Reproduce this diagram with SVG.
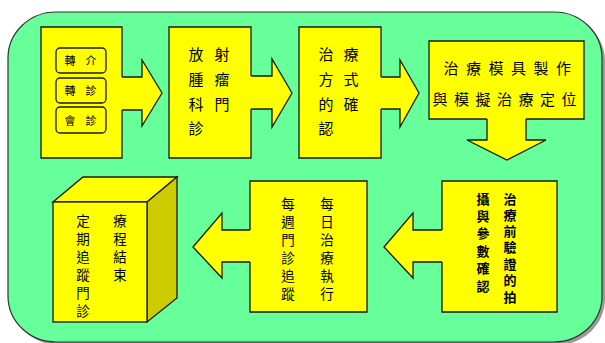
<svg xmlns="http://www.w3.org/2000/svg" width="605" height="343" viewBox="0 0 605 343">
<style>
.bx{fill:#FFFF00;stroke:#1a1a1a;stroke-width:1.3}
.ar{fill:#FFFF00;stroke:#1a1a1a;stroke-width:1.3;stroke-linejoin:miter}
.t{font-family:"Noto Sans CJK TC","Noto Sans CJK SC",sans-serif;font-size:15px;fill:#000;text-anchor:middle;dominant-baseline:central}
.v{font-size:13.5px}
.s{font-size:11px}
.b{font-size:13px;font-weight:bold}
</style>
<rect width="605" height="343" fill="#ffffff"/>
<rect x="11" y="15" width="594" height="330" rx="48" ry="46" fill="#9a9a9a"/>
<rect x="8" y="12" width="594" height="330" rx="48" ry="46" fill="#66FF99" stroke="#333" stroke-width="1.2"/>

<g id="connectors">
<path class="ar" d="M121,77 H142 V60 L162,93 L142,126 V110 H121"/>
<path class="ar" d="M250,76 H272 V59 L292,93 L272,127 V109 H250"/>
<path class="ar" d="M380,77 H400 V60 L419,93 L400,127 V109 H380"/>
<path class="ar" d="M487,118 V140 H467 L507,160 L546,140 H526 V118"/>
<path class="ar" d="M443,230 H413 V213 L384,247 L413,278 V262 H443"/>
<path class="ar" d="M251,230 H222 V213 L193,247 L222,278 V262 H251"/>
</g>

<g id="node1">
<path class="bx" d="M122,77 V27 H41 V158 H122 V110"/>
<rect class="bx" x="56" y="48" width="50" height="25" rx="4"/>
<rect class="bx" x="56" y="78" width="50" height="25" rx="4"/>
<rect class="bx" x="56" y="107" width="50" height="26" rx="4"/>
<text class="t s" x="70 91" y="60">轉介</text>
<text class="t s" x="70 91" y="90">轉診</text>
<text class="t s" x="70 91" y="120">會診</text>
</g>

<g id="node2">
<path class="bx" d="M251,76 V27 H169 V158 H251 V109"/>
<text class="t" x="196 222" y="53">放射</text>
<text class="t" x="196 222" y="78">腫瘤</text>
<text class="t" x="196 222" y="103">科門</text>
<text class="t" x="196" y="127">診</text>
</g>

<g id="node3">
<path class="bx" d="M381,77 V27 H299 V158 H381 V109"/>
<text class="t" x="326 351" y="53">治療</text>
<text class="t" x="326 351" y="78">方式</text>
<text class="t" x="326 351" y="103">的確</text>
<text class="t" x="326" y="127">認</text>
</g>

<g id="node4">
<path class="bx" d="M487,119 H429 V41 H584 V119 H526"/>
<text class="t" x="451 473.5 496 518.5 541 563.5" y="67">治療模具製作</text>
<text class="t" x="440 461.5 483 504.5 526 547.5 569" y="98">與模擬治療定位</text>
</g>

<g id="node5">
<path class="bx" d="M442,230 V181 H557 V312 H442 V262"/>
<text class="t b" x="510" y="198">治</text>
<text class="t b" x="510" y="214.3">療</text>
<text class="t b" x="510" y="230.6">前</text>
<text class="t b" x="510" y="246.9">驗</text>
<text class="t b" x="510" y="263.2">證</text>
<text class="t b" x="510" y="279.5">的</text>
<text class="t b" x="510" y="296">拍</text>
<text class="t b" x="483" y="198">攝</text>
<text class="t b" x="483" y="215.4">與</text>
<text class="t b" x="483" y="232.8">參</text>
<text class="t b" x="483" y="250.2">數</text>
<text class="t b" x="483" y="267.6">確</text>
<text class="t b" x="483" y="285">認</text>
</g>

<g id="node6">
<path class="bx" d="M250,230 V181 H367 V312 H250 V262"/>
<text class="t v" x="327" y="203">每</text>
<text class="t v" x="327" y="221">日</text>
<text class="t v" x="327" y="239">治</text>
<text class="t v" x="327" y="257">療</text>
<text class="t v" x="327" y="275">執</text>
<text class="t v" x="327" y="293">行</text>
<text class="t v" x="288" y="203">每</text>
<text class="t v" x="288" y="221">週</text>
<text class="t v" x="288" y="239">門</text>
<text class="t v" x="288" y="257">診</text>
<text class="t v" x="288" y="275">追</text>
<text class="t v" x="288" y="293">蹤</text>
</g>

<g id="node7">
<polygon class="bx" points="53,202 83,177 177,177 147,202"/>
<polygon points="147,202 177,177 177,298 147,322" fill="#CCCC00" stroke="#1a1a1a" stroke-width="1.3"/>
<rect class="bx" x="53" y="202" width="94" height="120"/>
<text class="t v" x="120" y="220">療</text>
<text class="t v" x="120" y="238">程</text>
<text class="t v" x="120" y="256">結</text>
<text class="t v" x="120" y="274">束</text>
<text class="t v" x="83" y="220">定</text>
<text class="t v" x="83" y="238">期</text>
<text class="t v" x="83" y="256">追</text>
<text class="t v" x="83" y="274">蹤</text>
<text class="t v" x="83" y="292">門</text>
<text class="t v" x="83" y="310">診</text>
</g>
</svg>
